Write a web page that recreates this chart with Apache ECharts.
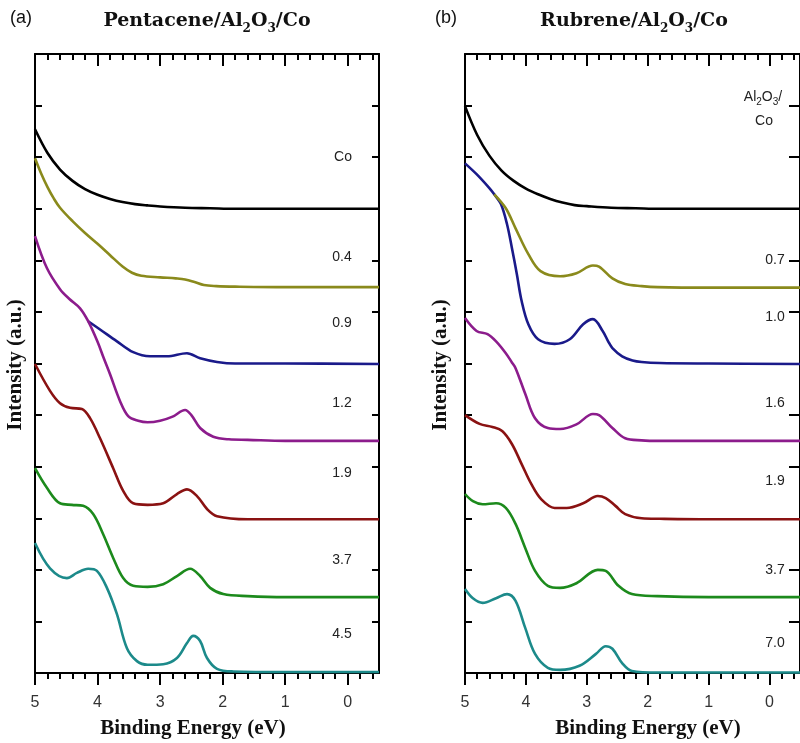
<!DOCTYPE html>
<html>
<head>
<meta charset="utf-8">
<script src="https://cdn.jsdelivr.net/npm/echarts@6/dist/echarts.min.js"></script>
<style>
html,body{margin:0;padding:0;background:#fff;}
#chart{width:800px;height:743px;}
</style>
</head>
<body>
<div id="chart"></div>
<script>
// ---------------- DATA ----------------
// Binding-energy axis tick labels (eV)
const energyMajorTicks = [5, 4, 3, 2, 1, 0];
const intensityTicks = [0,1,2,3,4,5,6,7,8,9,10,11,12];

// Panel (a): Pentacene/Al2O3/Co
const aLabels = ['Co', '0.4', '0.9', '1.2', '1.9', '3.7', '4.5'];

const aCoE = [5.0, 4.8, 4.6, 4.4, 4.2, 4.0, 3.8, 3.6, 3.4, 3.2, 3.0, 2.6, 2.2, 1.8, 1.0, -0.5];
const aCoI = [10.54, 10.08, 9.76, 9.54, 9.38, 9.27, 9.19, 9.13, 9.09, 9.065, 9.045, 9.02, 9.01, 9.0, 9.0, 9.0];

const a04E = [5.0, 4.9, 4.8, 4.7, 4.6, 4.4, 4.2, 4.0, 3.8, 3.6, 3.45, 3.3, 3.0, 2.75, 2.6, 2.45, 2.3, 2.1, 1.8, 1.0, -0.5];
const a04I = [9.98, 9.68, 9.42, 9.2, 9.02, 8.76, 8.53, 8.32, 8.1, 7.88, 7.76, 7.7, 7.67, 7.65, 7.63, 7.58, 7.52, 7.5, 7.49, 7.48, 7.48];

const a09E = [4.15, 3.96, 3.69, 3.43, 3.16, 2.89, 2.57, 2.36, 2.09, 1.8, 1.0, -0.5];
const a09I = [6.82, 6.66, 6.43, 6.22, 6.14, 6.14, 6.2, 6.1, 6.03, 6.0, 6.0, 5.99];

const a12E = [5.0, 4.81, 4.6, 4.45, 4.28, 4.15, 4.0, 3.9, 3.8, 3.64, 3.51, 3.35, 3.2, 3.0, 2.8, 2.6, 2.5, 2.36, 2.15, 1.9, 1.6, 1.0, -0.5];
const a12I = [8.47, 7.85, 7.44, 7.25, 7.07, 6.82, 6.42, 6.1, 5.79, 5.27, 4.98, 4.89, 4.86, 4.89, 4.97, 5.1, 5.0, 4.75, 4.58, 4.53, 4.52, 4.5, 4.5];

const a19E = [5.0, 4.76, 4.6, 4.44, 4.25, 4.12, 3.96, 3.75, 3.59, 3.43, 3.2, 2.95, 2.73, 2.57, 2.41, 2.25, 2.09, 1.6, 1.0, -0.5];
const a19I = [5.99, 5.47, 5.23, 5.14, 5.12, 4.94, 4.55, 3.97, 3.53, 3.29, 3.26, 3.29, 3.47, 3.56, 3.43, 3.18, 3.04, 2.98, 2.98, 2.98];

const a37E = [5.0, 4.81, 4.6, 4.41, 4.23, 4.07, 3.91, 3.75, 3.59, 3.43, 3.2, 2.95, 2.73, 2.52, 2.36, 2.2, 1.99, 1.6, 1.0, -0.5];
const a37I = [3.97, 3.59, 3.29, 3.26, 3.24, 3.08, 2.69, 2.23, 1.84, 1.69, 1.67, 1.72, 1.88, 2.02, 1.88, 1.65, 1.53, 1.49, 1.47, 1.47];

const a45E = [5.0, 4.76, 4.49, 4.33, 4.15, 4.01, 3.85, 3.69, 3.53, 3.37, 3.2, 2.95, 2.73, 2.57, 2.47, 2.36, 2.25, 2.09, 1.83, 1.0, -0.5];
const a45I = [2.52, 2.03, 1.84, 1.94, 2.02, 1.98, 1.65, 1.14, 0.48, 0.23, 0.16, 0.17, 0.29, 0.58, 0.72, 0.62, 0.29, 0.08, 0.03, 0.02, 0.02];

// Panel (b): Rubrene/Al2O3/Co
const bLabels = ['0.7', '1.0', '1.6', '1.9', '3.7', '7.0'];

const bCoE = [5.0, 4.8, 4.6, 4.4, 4.2, 4.0, 3.8, 3.6, 3.4, 3.2, 3.0, 2.6, 2.2, 1.8, 1.0, -0.5];
const bCoI = [10.99, 10.43, 10.03, 9.74, 9.54, 9.39, 9.28, 9.19, 9.12, 9.07, 9.05, 9.02, 9.01, 9.0, 9.0, 9.0];

const b10E = [5.0, 4.81, 4.6, 4.52, 4.41, 4.31, 4.23, 4.15, 4.07, 3.96, 3.8, 3.53, 3.28, 3.06, 2.9, 2.74, 2.65, 2.58, 2.42, 2.25, 2.1, 1.8, 1.0, -0.5];
const b10I = [9.88, 9.67, 9.4, 9.28, 9.09, 8.7, 8.24, 7.74, 7.21, 6.76, 6.47, 6.38, 6.47, 6.76, 6.86, 6.63, 6.43, 6.3, 6.14, 6.06, 6.03, 6.01, 6.0, 5.99];

const b07E = [4.52, 4.33, 4.17, 3.96, 3.76, 3.44, 3.17, 2.9, 2.8, 2.58, 2.37, 2.1, 1.84, 1.0, -0.5];
const b07I = [9.28, 9.01, 8.62, 8.12, 7.79, 7.69, 7.75, 7.9, 7.88, 7.65, 7.54, 7.5, 7.48, 7.47, 7.47];

const b16E = [5.0, 4.81, 4.63, 4.49, 4.33, 4.23, 4.17, 4.01, 3.85, 3.64, 3.44, 3.17, 2.9, 2.8, 2.58, 2.37, 2.1, 1.8, 1.0, -0.5];
const b16I = [6.88, 6.63, 6.57, 6.43, 6.2, 6.02, 5.91, 5.41, 4.94, 4.75, 4.73, 4.82, 5.02, 5.0, 4.75, 4.55, 4.51, 4.5, 4.5, 4.5];

const b19E = [5.0, 4.76, 4.55, 4.39, 4.23, 4.07, 3.91, 3.75, 3.53, 3.33, 3.06, 2.82, 2.69, 2.53, 2.37, 2.1, 1.8, 1.0, -0.5];
const b19I = [5.0, 4.83, 4.77, 4.69, 4.44, 4.05, 3.66, 3.37, 3.2, 3.2, 3.29, 3.43, 3.39, 3.24, 3.08, 3.0, 2.99, 2.98, 2.98];

const b37E = [5.0, 4.87, 4.71, 4.49, 4.33, 4.17, 4.01, 3.85, 3.64, 3.44, 3.17, 2.82, 2.69, 2.48, 2.26, 1.84, 1.0, -0.5];
const b37I = [3.47, 3.33, 3.27, 3.29, 3.2, 2.89, 2.42, 1.98, 1.69, 1.65, 1.74, 2.0, 1.98, 1.69, 1.53, 1.49, 1.47, 1.47];

const b70E = [5.0, 4.87, 4.71, 4.49, 4.31, 4.17, 4.01, 3.85, 3.64, 3.44, 3.12, 2.85, 2.69, 2.58, 2.42, 2.26, 1.84, 1.0, -0.5];
const b70I = [1.63, 1.45, 1.36, 1.45, 1.53, 1.4, 0.87, 0.37, 0.1, 0.06, 0.14, 0.37, 0.52, 0.47, 0.19, 0.04, 0.01, 0.01, 0.01];

// ---------------- STYLE / LAYOUT ----------------
const colors = {
  black: '#000000', olive: '#8a8a1c', navy: '#1a1a8a', purple: '#8c1c8c',
  maroon: '#8a1212', green: '#1c8a1c', teal: '#1c8a8a'
};
const gridA = {left: 35, top: 54, width: 344, height: 619};
const gridB = {left: 465, top: 54, width: 344, height: 619};
const serif = '"Liberation Serif", "Times New Roman", serif';
const sans = '"Liberation Sans", Arial, sans-serif';

const energyMinorTicks = [];
for (let k = -2; k <= 25; k++) { const v = Math.round(k * 0.2 * 10) / 10; if (Math.abs(v - Math.round(v)) > 1e-6) energyMinorTicks.push(v); }

function zip(E, I) { return E.map((e, i) => [e, I[i]]).reverse(); }

function xAxes(gridIndex) {
  const base = {type: 'value', gridIndex, min: -0.5, max: 5, inverse: true, splitLine: {show: false}, offset: 0};
  return [
    Object.assign({}, base, {position: 'bottom',
      axisLine: {show: true, lineStyle: {color: '#000', width: 2}},
      axisTick: {show: true, inside: false, length: 12, lineStyle: {color: '#000', width: 2}, customValues: energyMajorTicks},
      axisLabel: {show: true, customValues: energyMajorTicks, margin: 22, fontFamily: sans, fontSize: 16, color: '#333'}}),
    Object.assign({}, base, {position: 'bottom',
      axisLine: {show: false},
      axisTick: {show: true, inside: false, length: 6, lineStyle: {color: '#000', width: 2}, customValues: energyMinorTicks},
      axisLabel: {show: false}}),
    Object.assign({}, base, {position: 'top',
      axisLine: {show: true, lineStyle: {color: '#000', width: 2}},
      axisTick: {show: true, inside: true, length: 12, lineStyle: {color: '#000', width: 2}, customValues: energyMajorTicks},
      axisLabel: {show: false}}),
    Object.assign({}, base, {position: 'top',
      axisLine: {show: false},
      axisTick: {show: true, inside: true, length: 6, lineStyle: {color: '#000', width: 2}, customValues: energyMinorTicks},
      axisLabel: {show: false}})
  ];
}
function yAxes(gridIndex, rightLen) {
  const base = {type: 'value', gridIndex, min: 0, max: 12, interval: 1, splitLine: {show: false},
    axisLabel: {show: false}, axisLine: {show: true, onZero: false, lineStyle: {color: '#000', width: 2}}, offset: 0};
  return [
    Object.assign({}, base, {position: 'left', axisTick: {show: true, inside: true, length: 7, lineStyle: {color: '#000', width: 2}}}),
    Object.assign({}, base, {position: 'right', axisTick: {show: true, inside: true, length: rightLen, lineStyle: {color: '#000', width: 2}}})
  ];
}
function line(name, E, I, color, xi, yi) {
  return {type: 'line', name, data: zip(E, I), xAxisIndex: xi, yAxisIndex: yi,
    showSymbol: false, symbol: 'none', smooth: 0.35,
    lineStyle: {color, width: 2.6}, itemStyle: {color}, animation: false, z: 3};
}

const series = [
  line('a Co', aCoE, aCoI, colors.black, 0, 0),
  line('a 0.4', a04E, a04I, colors.olive, 0, 0),
  line('a 0.9', a09E, a09I, colors.navy, 0, 0),
  line('a 1.2', a12E, a12I, colors.purple, 0, 0),
  line('a 1.9', a19E, a19I, colors.maroon, 0, 0),
  line('a 3.7', a37E, a37I, colors.green, 0, 0),
  line('a 4.5', a45E, a45I, colors.teal, 0, 0),
  line('b Co', bCoE, bCoI, colors.black, 4, 2),
  line('b 1.0', b10E, b10I, colors.navy, 4, 2),
  line('b 0.7', b07E, b07I, colors.olive, 4, 2),
  line('b 1.6', b16E, b16I, colors.purple, 4, 2),
  line('b 1.9', b19E, b19I, colors.maroon, 4, 2),
  line('b 3.7', b37E, b37I, colors.green, 4, 2),
  line('b 7.0', b70E, b70I, colors.teal, 4, 2)
];

// text placements (pixels)
const aLabelPos = [[343, 157], [342, 257], [342, 323], [342, 403], [342, 473], [342, 560], [342, 634]];
const bLabelPos = [[775, 260], [775, 317], [775, 403], [775, 481], [775, 570], [775, 643]];

const graphic = [];
function txt(x, y, text, font, extra) {
  graphic.push(Object.assign({type: 'text', x, y, z: 10, silent: true,
    style: Object.assign({text, fill: '#222', align: 'center', verticalAlign: 'middle'}, font)}, extra || {}));
}
aLabels.forEach((t, i) => txt(aLabelPos[i][0], aLabelPos[i][1], t, {fontFamily: sans, fontSize: 14}));
bLabels.forEach((t, i) => txt(bLabelPos[i][0], bLabelPos[i][1], t, {fontFamily: sans, fontSize: 14}));
// Al2O3/Co header in panel b
txt(763, 97, '{t|Al}{s|2}{t|O}{s|3}{t|/}', {fontFamily: sans, fontSize: 14,
  rich: {t: {fontFamily: sans, fontSize: 14, fill: '#222'}, s: {fontFamily: sans, fontSize: 10, fill: '#222', padding: [11, 0, 0, 0]}}});
txt(764, 121, 'Co', {fontFamily: sans, fontSize: 14});

// panel letters and titles
txt(21, 18, '(a)', {fontFamily: sans, fontSize: 18, fill: '#111'});
txt(446, 18, '(b)', {fontFamily: sans, fontSize: 18, fill: '#111'});
const titleRich = {
  t: {fontFamily: '"DejaVu Serif", serif', fontWeight: 'bold', fontSize: 19, fill: '#111'},
  s: {fontFamily: '"DejaVu Serif", serif', fontWeight: 'bold', fontSize: 12, fill: '#111', padding: [15, 0, 0, 0]}
};
txt(207, 21, '{t|Pentacene/Al}{s|2}{t|O}{s|3}{t|/Co}', {rich: titleRich});
txt(634, 21, '{t|Rubrene/Al}{s|2}{t|O}{s|3}{t|/Co}', {rich: titleRich});

// axis names
txt(193, 729, 'Binding Energy (eV)', {fontFamily: serif, fontWeight: 'bold', fontSize: 21, fill: '#111'});
txt(648, 729, 'Binding Energy (eV)', {fontFamily: serif, fontWeight: 'bold', fontSize: 21, fill: '#111'});
txt(16, 365, 'Intensity (a.u.)', {fontFamily: serif, fontWeight: 'bold', fontSize: 21, fill: '#111'}, {rotation: Math.PI / 2});
txt(441, 365, 'Intensity (a.u.)', {fontFamily: serif, fontWeight: 'bold', fontSize: 21, fill: '#111'}, {rotation: Math.PI / 2});

const chart = echarts.init(document.getElementById('chart'), null, {renderer: 'canvas'});
chart.setOption({
  backgroundColor: '#fff',
  animation: false,
  grid: [Object.assign({containLabel: false}, gridA), Object.assign({containLabel: false}, gridB)],
  xAxis: xAxes(0).concat(xAxes(1)),
  yAxis: yAxes(0, 7).concat(yAxes(1, 11)),
  series,
  graphic
});
</script>
</body>
</html>
